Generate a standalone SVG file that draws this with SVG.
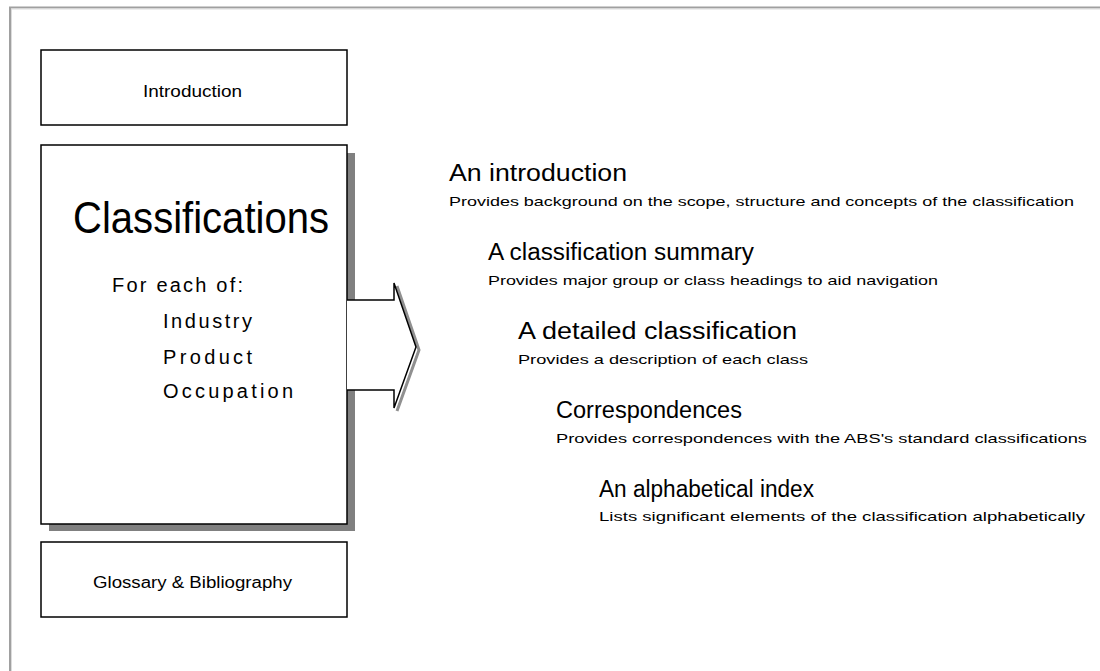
<svg xmlns="http://www.w3.org/2000/svg" width="1100" height="671" viewBox="0 0 1100 671">
<style>
.box{fill:#fff;stroke:#000;stroke-width:1.5}
.t{font-family:"Liberation Sans",Arial,sans-serif;fill:#000}
.h{font-size:23px}
.s{font-size:13px}
</style>
<rect width="1100" height="671" fill="#fff"/>
<g id="frame">
<path d="M10,671 V7.5 H1100" fill="none" stroke="#a0a0a0" stroke-width="2"/>
<path d="M11.5,671 V9 H1100" fill="none" stroke="#dcdcdc" stroke-width="1"/>
</g>
<g id="introduction">
<rect class="box" x="41" y="50" width="306" height="75"/>
<text class="t" x="143" y="97" font-size="16" textLength="99" lengthAdjust="spacingAndGlyphs">Introduction</text>
</g>
<g id="classifications">
<rect x="49" y="153" width="306" height="378" fill="#808080"/>
<rect class="box" x="41" y="145" width="306" height="379"/>
<text class="t" x="73" y="233" font-size="44" textLength="256" lengthAdjust="spacingAndGlyphs">Classifications</text>
<text class="t" x="112" y="292" font-size="20" textLength="131" lengthAdjust="spacing">For each of:</text>
<text class="t" x="163" y="328" font-size="20" textLength="89" lengthAdjust="spacing">Industry</text>
<text class="t" x="163" y="364" font-size="20" textLength="89" lengthAdjust="spacing">Product</text>
<text class="t" x="163" y="398" font-size="20" textLength="130" lengthAdjust="spacing">Occupation</text>
</g>
<g id="glossary">
<rect class="box" x="41" y="542" width="306" height="75"/>
<text class="t" x="93" y="588" font-size="16" textLength="199" lengthAdjust="spacingAndGlyphs">Glossary &amp; Bibliography</text>
</g>
<g id="connectors">
<polyline points="397,286 419,350 397,411" fill="none" stroke="#909090" stroke-width="3"/>
<polygon points="347,300 394,300 394,283 416,347 394,408 394,390 347,390" fill="#fff" stroke="none"/>
<polyline points="347,300 394,300 394,283 416,347 394,408 394,390 347,390" fill="none" stroke="#000" stroke-width="1.5"/>
</g>
<g id="contents">
<text class="t h" x="449" y="181" textLength="178" lengthAdjust="spacingAndGlyphs">An introduction</text>
<text class="t s" x="449" y="206" textLength="625" lengthAdjust="spacingAndGlyphs">Provides background on the scope, structure and concepts of the classification</text>
<text class="t h" x="488" y="260" textLength="266" lengthAdjust="spacingAndGlyphs">A classification summary</text>
<text class="t s" x="488" y="285" textLength="450" lengthAdjust="spacingAndGlyphs">Provides major group or class headings to aid navigation</text>
<text class="t h" x="518" y="339" textLength="279" lengthAdjust="spacingAndGlyphs">A detailed classification</text>
<text class="t s" x="518" y="364" textLength="290" lengthAdjust="spacingAndGlyphs">Provides a description of each class</text>
<text class="t h" x="556" y="418" textLength="186" lengthAdjust="spacingAndGlyphs">Correspondences</text>
<text class="t s" x="556" y="443" textLength="531" lengthAdjust="spacingAndGlyphs">Provides correspondences with the ABS's standard classifications</text>
<text class="t h" x="599" y="497" textLength="215" lengthAdjust="spacingAndGlyphs">An alphabetical index</text>
<text class="t s" x="599" y="521" textLength="486" lengthAdjust="spacingAndGlyphs">Lists significant elements of the classification alphabetically</text>
</g>
</svg>
